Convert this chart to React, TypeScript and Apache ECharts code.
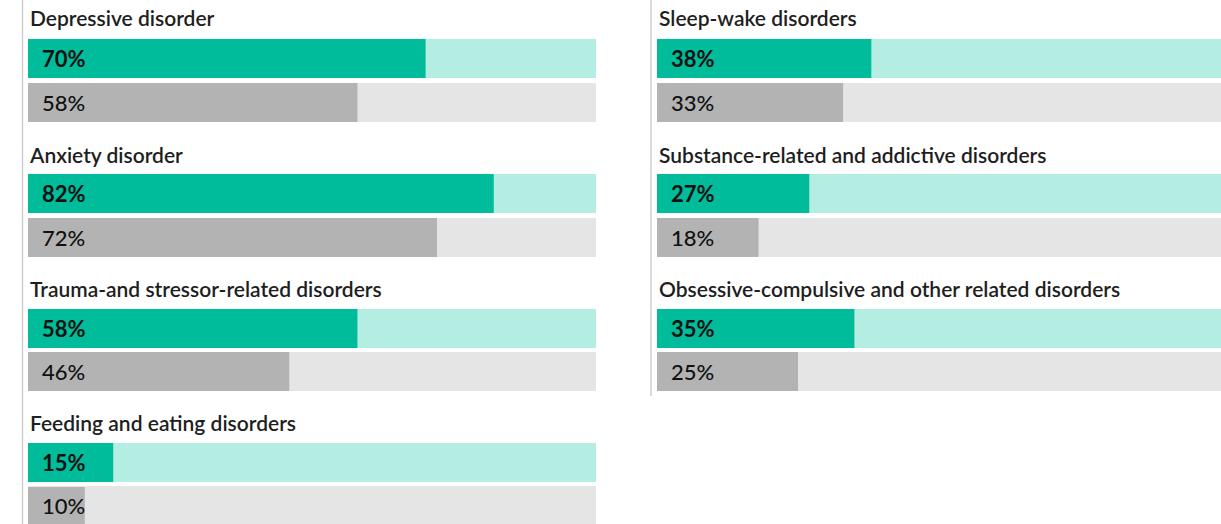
import React, { useEffect, useRef } from "react";
import * as echarts from "echarts";

const categories = [
  "Depressive disorder",
  "Anxiety disorder",
  "Trauma-and stressor-related disorders",
  "Feeding and eating disorders",
  "Sleep-wake disorders",
  "Substance-related and addictive disorders",
  "Obsessive-compulsive and other related disorders",
];
const tealValues = [70, 82, 58, 15, 38, 27, 35];
const grayValues = [58, 72, 46, 10, 33, 18, 25];

const TEAL = "#00bc9a";
const TEAL_TRACK = "#b4ede2";
const GRAY = "#b3b3b3";
const GRAY_TRACK = "#e5e5e5";

const colLeft = [28, 657];
const colWidth = 568;
const titleTops = [7, 144, 278, 412];
const tealTops = [39, 174, 309, 443];
const grayTops = [83, 218, 352, 487];
const BAR_H = 39;

export default function App() {
  const ref = useRef<HTMLDivElement>(null);
  useEffect(() => {
    if (!ref.current) return;
    const chart = echarts.init(ref.current, null, { renderer: "svg" });
    const grids: any[] = [];
    const xAxes: any[] = [];
    const yAxes: any[] = [];
    const series: any[] = [];
    const titles: any[] = [];
    categories.forEach((cat, i) => {
      const col = i < 4 ? 0 : 1;
      const row = i < 4 ? i : i - 4;
      titles.push({
        text: cat,
        left: colLeft[col] + 2,
        top: titleTops[row],
        padding: 0,
        textStyle: {
          fontFamily: "Lato",
          fontSize: 21,
          fontWeight: 600,
          color: "#1e1e1e",
        },
      });
      const rows = [
        { v: tealValues[i], top: tealTops[row], color: TEAL, track: TEAL_TRACK, fw: "bold" },
        { v: grayValues[i], top: grayTops[row], color: GRAY, track: GRAY_TRACK, fw: 500 },
      ];
      rows.forEach((r) => {
        const idx = grids.length;
        grids.push({
          left: colLeft[col],
          top: r.top,
          width: colWidth,
          height: BAR_H,
          containLabel: false,
        });
        xAxes.push({ type: "value", gridIndex: idx, min: 0, max: 100, show: false });
        yAxes.push({ type: "category", gridIndex: idx, data: [cat], show: false });
        series.push({
          type: "bar",
          xAxisIndex: idx,
          yAxisIndex: idx,
          data: [r.v],
          barWidth: BAR_H,
          showBackground: true,
          backgroundStyle: { color: r.track },
          itemStyle: { color: r.color },
          label: {
            show: true,
            position: "insideLeft",
            distance: 14,
            formatter: "{c}%",
            fontFamily: "Lato",
            fontSize: 22,
            fontWeight: r.fw,
            color: "#111",
          },
        });
      });
    });
    chart.setOption({
      animation: false,
      backgroundColor: "#ffffff",
      title: titles,
      grid: grids,
      xAxis: xAxes,
      yAxis: yAxes,
      series,
      graphic: [
        {
          type: "line",
          shape: { x1: 22.5, y1: 0, x2: 22.5, y2: 524 },
          style: { stroke: "#cfcfcf", lineWidth: 1.5 },
        },
        {
          type: "line",
          shape: { x1: 651, y1: 0, x2: 651, y2: 396 },
          style: { stroke: "#cfcfcf", lineWidth: 1.5 },
        },
      ],
    });
    return () => chart.dispose();
  }, []);
  return (
    <div
      ref={ref}
      style={{ position: "fixed", left: 0, top: 0, width: 1221, height: 524 }}
    />
  );
}
